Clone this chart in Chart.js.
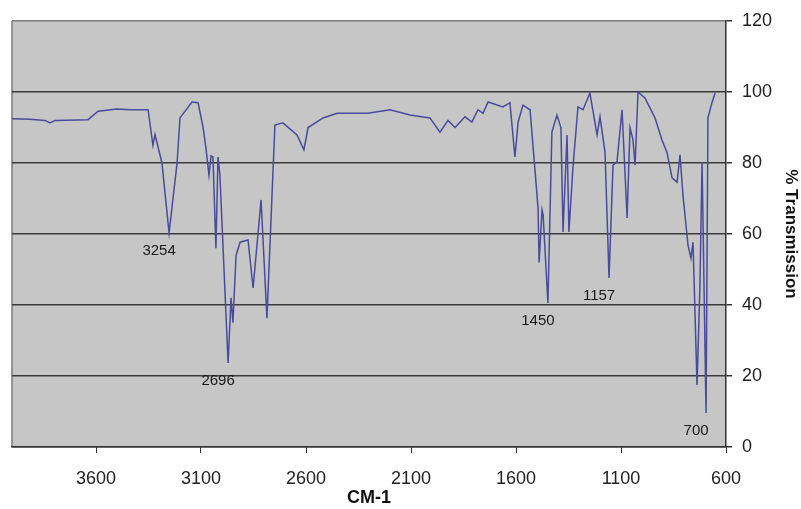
<!DOCTYPE html>
<html>
<head>
<meta charset="utf-8">
<script src="https://cdn.jsdelivr.net/npm/chart.js@4.4.1/dist/chart.umd.min.js"></script>
<style>
  body { margin: 0; background: #fff; }
  #wrap { width: 801px; height: 509px; }
</style>
</head>
<body>
<div id="wrap"><canvas id="irChart" width="801" height="509"></canvas></div>
<script>
// IR spectrum (cm-1 vs % transmission)
var wavenumbers = [
  4000, 3914, 3843, 3819, 3795, 3638, 3590, 3500, 3438, 3352,
  3329, 3319, 3286, 3252, 3214, 3200, 3143, 3114, 3090, 3076,
  3062, 3052, 3043, 3029, 3019, 3010, 2971, 2957, 2948, 2933,
  2914, 2876, 2852, 2814, 2786, 2748, 2710, 2643, 2610, 2590,
  2519, 2452, 2305, 2200, 2105, 2010, 1962, 1924, 1890, 1843,
  1810, 1781, 1757, 1733, 1662, 1629, 1605, 1590, 1567, 1533,
  1495, 1490, 1476, 1471, 1448, 1429, 1405, 1386, 1376, 1357,
  1348, 1329, 1305, 1281, 1248, 1214, 1200, 1176, 1157, 1138,
  1119, 1095, 1071, 1057, 1043, 1033, 1019, 986, 938, 905,
  881, 857, 833, 819, 805, 781, 767, 757, 738, 724,
  714, 695, 686, 667, 652
];
var transmission = [
  92.5, 92.3, 92.0, 91.3, 92.0, 92.2, 94.6, 95.2, 95.0, 95.0,
  85.0, 88.0, 80.0, 60.3, 80.0, 92.7, 97.2, 97.0, 90.0, 84.0,
  76.6, 82.0, 81.7, 56.0, 81.7, 76.6, 23.7, 42.0, 35.0, 54.0,
  57.7, 58.3, 44.8, 69.6, 36.3, 90.7, 91.3, 87.9, 83.7, 90.0,
  92.7, 94.0, 94.0, 95.0, 93.5, 92.7, 88.7, 92.0, 90.0, 93.0,
  91.5, 95.0, 94.0, 97.2, 95.8, 97.0, 81.7, 91.5, 96.3, 95.0,
  67.3, 52.0, 66.8, 65.4, 40.6, 88.7, 93.5, 89.9, 60.6, 87.9,
  60.6, 78.6, 95.8, 95.0, 99.7, 87.9, 93.0, 83.0, 47.6, 79.4,
  80.3, 95.0, 64.5, 89.9, 86.5, 79.4, 100.0, 98.3, 92.7, 86.5,
  83.0, 75.8, 74.6, 82.3, 71.0, 56.9, 53.2, 57.7, 17.5, 45.6,
  80.3, 9.6, 92.7, 97.0, 99.7
];

var xTicks = [3600, 3100, 2600, 2100, 1600, 1100, 600];

// labelled bands: where each label sits (at the band minimum) and its text
var peakX = [3252, 2971, 1448, 1157, 695];
var peakText = ['3254', '2696', '1450', '1157', '700'];

var points = wavenumbers.map(function(w, i) {
  return { x: w, y: transmission[i] };
});

var plotBg = {
  id: 'plotBg',
  beforeDraw: function(chart) {
    var a = chart.chartArea, c = chart.ctx;
    c.save();
    c.fillStyle = '#c6c6c6';
    c.fillRect(a.left, a.top, a.right - a.left, a.bottom - a.top);
    c.strokeStyle = '#7a7a7a';
    c.lineWidth = 1.5;
    c.beginPath();
    c.moveTo(a.left, a.bottom);
    c.lineTo(a.left, a.top);
    c.stroke();
    c.restore();
  }
};

var peakLabels = {
  id: 'peakLabels',
  afterDatasetsDraw: function(chart) {
    var xs = chart.scales.x, ys = chart.scales.y, c = chart.ctx;
    c.save();
    c.font = '15px "Liberation Sans", Arial, sans-serif';
    c.fillStyle = '#1a1a1a';
    c.textAlign = 'center';
    c.textBaseline = 'middle';
    peakX.forEach(function(w, i) {
      var idx = wavenumbers.indexOf(w);
      var px = xs.getPixelForValue(w);
      var py = ys.getPixelForValue(transmission[idx]);
      c.fillText(peakText[i], px - 10, py + 18);
    });
    c.restore();
  }
};

new Chart(document.getElementById('irChart'), {
  type: 'line',
  data: {
    datasets: [{
      data: points,
      borderColor: '#4a4a9c',
      borderWidth: 1.5,
      pointRadius: 0,
      tension: 0,
      fill: false
    }]
  },
  options: {
    responsive: false,
    animation: false,
    layout: { padding: { left: 12, top: 21, right: 0, bottom: 0 } },
    plugins: {
      legend: { display: false },
      tooltip: { enabled: false }
    },
    scales: {
      x: {
        type: 'linear',
        reverse: true,
        min: 600,
        max: 4000,
        afterBuildTicks: function(scale) {
          scale.ticks = xTicks.map(function(v) { return { value: v }; });
        },
        afterFit: function(scale) {
          scale.height = 62;
          scale.paddingLeft = 0;
          scale.paddingRight = 0;
        },
        grid: {
          drawOnChartArea: false,
          drawTicks: true,
          tickLength: 6,
          tickColor: '#333'
        },
        border: { color: '#333', width: 1.5 },
        ticks: {
          color: '#222',
          padding: 15,
          maxRotation: 0,
          autoSkip: false,
          callback: function(v) { return String(v); },
          font: { family: '"Liberation Sans", Arial, sans-serif', size: 18 }
        },
        title: {
          display: true,
          text: 'CM-1',
          color: '#111',
          padding: { top: 0, bottom: 0 },
          font: { family: '"Liberation Sans", Arial, sans-serif', size: 18, weight: 'bold' }
        }
      },
      y: {
        position: 'right',
        min: 0,
        max: 120,
        afterFit: function(scale) {
          scale.width = 75;
          scale.paddingTop = 0;
          scale.paddingBottom = 0;
        },
        grid: {
          color: function(ctx) {
            return ctx.tick && ctx.tick.value === 120 ? '#7a7a7a' : '#3a3a3a';
          },
          lineWidth: 1.5,
          tickLength: 6,
          tickColor: '#333'
        },
        border: { color: '#333', width: 1.5 },
        ticks: {
          stepSize: 20,
          color: '#222',
          padding: 10,
          font: { family: '"Liberation Sans", Arial, sans-serif', size: 18 }
        },
        title: {
          display: true,
          text: '% Transmission',
          color: '#111',
          padding: { top: 0, bottom: 0 },
          font: { family: '"Liberation Sans", Arial, sans-serif', size: 17, weight: 'bold' }
        }
      }
    }
  },
  plugins: [plotBg, peakLabels]
});
</script>
</body>
</html>
